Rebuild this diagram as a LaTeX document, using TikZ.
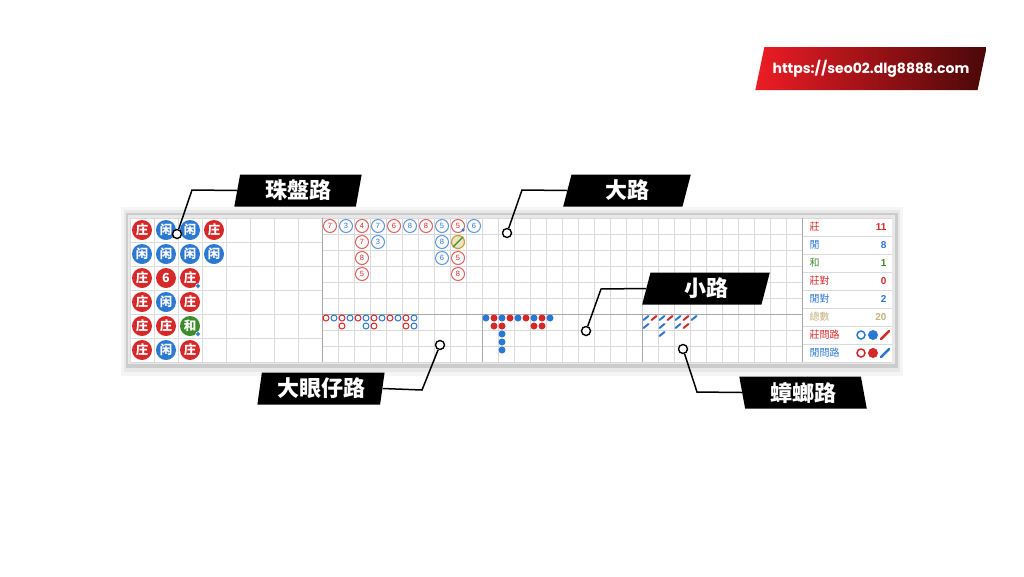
\documentclass[tikz,border=0pt]{standalone}
\usepackage{fontspec}
\newfontfamily\cjk{Noto Sans CJK TC}
\newfontfamily\numfont{Liberation Sans}
\newfontfamily\urlfont{Poppins}
\usetikzlibrary{shapes.geometric}
\definecolor{bkr}{HTML}{D62828}
\definecolor{ply}{HTML}{2B78D2}
\definecolor{tiec}{HTML}{3C8C2A}
\definecolor{tanc}{HTML}{C9B27C}
\definecolor{gridc}{HTML}{DADADA}
\definecolor{sepc}{HTML}{A8A8A8}
\definecolor{bkrl}{HTML}{E0605A}
\definecolor{plyl}{HTML}{5A98E0}
\definecolor{olivec}{HTML}{C2A43C}
\definecolor{urlA}{HTML}{EE1C25}
\definecolor{urlB}{HTML}{4A0808}
\tikzset{
  gridl/.style={draw=gridc, line width=0.8},
  sepl/.style={draw=sepc, line width=1},
  beadB/.style={circle, fill=bkr, text=white, minimum size=20, inner sep=0, font=\cjk\bfseries\fontsize{12.5}{12.5}\selectfont},
  beadP/.style={beadB, fill=ply},
  beadT/.style={beadB, fill=tiec},
  pdot/.style={circle, fill=ply, draw=white, line width=0.5, minimum size=4.5, inner sep=0},
  ringB/.style={circle, draw=bkrl, line width=1, fill=white, text=bkr, minimum size=13, inner sep=0, font=\numfont\fontsize{7.5}{7.5}\selectfont},
  ringP/.style={ringB, draw=plyl, text=ply},
  eyeR/.style={circle, draw=bkr, line width=1, fill=white, minimum size=6, inner sep=0},
  eyeB/.style={eyeR, draw=ply},
  sdR/.style={circle, fill=bkr, minimum size=7, inner sep=0},
  sdB/.style={sdR, fill=ply},
  slR/.style={draw=bkr, line width=2, line cap=round},
  slB/.style={slR, draw=ply},
  statl/.style={anchor=west, font=\cjk\fontsize{10}{10}\selectfont},
  statv/.style={anchor=east, font=\numfont\bfseries\fontsize{10}{10}\selectfont},
  callout/.style={trapezium, trapezium left angle=81, trapezium right angle=99, trapezium stretches=true, fill=black, text=white, minimum width=128, minimum height=32, inner sep=0, font=\cjk\bfseries\fontsize{22}{22}\selectfont},
  calloutr/.style={callout, trapezium left angle=99, trapezium right angle=81},
  lead/.style={draw=black, line width=1.5},
  hole/.style={circle, draw=black, fill=white, line width=1.4, minimum size=9, inner sep=0},
}
\begin{document}
\begin{tikzpicture}[x=1pt, y=-1pt]
\useasboundingbox (0,0) rectangle (1024,576);
\fill[white] (0,0) rectangle (1024,576);

% URL banner
\node[trapezium, trapezium left angle=64, trapezium right angle=116, trapezium stretches=true,
  left color=urlA, right color=urlB, minimum width=232, minimum height=43, inner sep=0,
  text=white, font=\urlfont\bfseries\fontsize{14}{14}\selectfont] (url) at (871,68.5) {https://seo02.dlg8888.com};

% board frame
\fill[black!4] (121,207) rectangle (903,376);
\fill[black!9] (124,210) rectangle (900,372);
\fill[black!20] (126,213) rectangle (898,368);
\fill[black!9] (128,215) rectangle (895,364);
\fill[white] (130,218) rectangle (892,362);

% bead road grid
\foreach \i in {0,...,8} \draw[gridl] ({130+24*\i},218) -- ({130+24*\i},362);
\foreach \j in {0,...,6} \draw[gridl] (130,{218+24*\j}) -- (322,{218+24*\j});
% big road + derived roads grid
\foreach \i in {0,...,30} \draw[gridl] ({322+16*\i},218) -- ({322+16*\i},362);
\foreach \j in {0,...,9} \draw[gridl] (322,{218+16*\j}) -- (802,{218+16*\j});
% stats panel grid
\foreach \k in {0,...,8} \draw[gridl] (802,{218+18*\k}) -- (892,{218+18*\k});
% separators
\draw[sepl] (322,218) -- (322,362);
\draw[sepl] (322,314) -- (802,314);
\draw[sepl] (482,314) -- (482,362);
\draw[sepl] (642,314) -- (642,362);
\draw[sepl] (802,218) -- (802,362);

% bead road
\foreach \c/\r/\k/\t [count=\n] in {
  0/0/B/庄, 0/1/P/闲, 0/2/B/庄, 0/3/B/庄, 0/4/B/庄, 0/5/B/庄,
  1/0/P/闲, 1/1/P/闲, 1/2/B/6, 1/3/P/闲, 1/4/B/庄, 1/5/P/闲,
  2/0/P/闲, 2/1/P/闲, 2/2/B/庄, 2/3/B/庄, 2/4/T/和, 2/5/B/庄,
  3/0/B/庄, 3/1/P/闲}
  \node[bead\k, name=bd\n] at ({142+24*\c},{230+24*\r}) {\t};
\node[pdot] (pd1) at ({142+48+8},{230+48+8}) {};
\node[pdot] (pd2) at ({142+48+8},{230+96+8}) {};

% big road
\foreach \c/\r/\t [count=\n] in {0/0/7, 2/0/4, 4/0/6, 6/0/8, 8/0/5, 2/1/7, 2/2/8, 2/3/5, 8/2/5, 8/3/8}
  \node[ringB, name=rb\n] at ({330+16*\c},{226+16*\r}) {\t};
\foreach \c/\r/\t [count=\n] in {1/0/3, 3/0/7, 5/0/8, 7/0/5, 9/0/6, 3/1/3, 7/1/8, 7/2/6}
  \node[ringP, name=rp\n] at ({330+16*\c},{226+16*\r}) {\t};
\node[circle, fill=ply, minimum size=3.5, inner sep=0] (rpd) at (463,230) {};
\node[circle, draw=olivec, fill=olivec!30, line width=1.2, minimum size=13, inner sep=0] (rt) at (458,242) {};
\draw[tiec, line width=1.3, line cap=round] (rt.south west) -- (rt.north east);

% big eye road
\foreach \c/\r [count=\n] in {0/0, 2/0, 4/0, 6/0, 8/0, 10/0, 2/1, 6/1, 10/1}
  \node[eyeR, name=er\n] at ({326+8*\c},{318+8*\r}) {};
\foreach \c/\r [count=\n] in {1/0, 3/0, 5/0, 7/0, 9/0, 11/0, 5/1, 11/1}
  \node[eyeB, name=eb\n] at ({326+8*\c},{318+8*\r}) {};

% small road
\foreach \c/\r [count=\n] in {1/0, 3/0, 5/0, 7/0, 1/1, 2/1, 6/1, 7/1}
  \node[sdR, name=sr\n] at ({486+8*\c},{318+8*\r}) {};
\foreach \c/\r [count=\n] in {0/0, 2/0, 4/0, 6/0, 8/0, 2/2, 2/3, 2/4}
  \node[sdB, name=sb\n] at ({486+8*\c},{318+8*\r}) {};

% cockroach road
\foreach \c/\r in {1/0, 3/0, 5/0, 5/1}
  \draw[slR] ({646+8*\c-2.5},{318+8*\r+2}) -- ++(5,-4);
\foreach \c/\r in {0/0, 2/0, 4/0, 6/0, 0/1, 2/1, 4/1, 2/2}
  \draw[slB] ({646+8*\c-2.5},{318+8*\r+2}) -- ++(5,-4);

% stats panel
\node[statl, text=bkr] (s0) at (806,227) {莊};
\node[statl, text=ply] (s1) at (806,245) {閒};
\node[statl, text=tiec] (s2) at (806,263) {和};
\node[statl, text=bkr] (s3) at (806,281) {莊對};
\node[statl, text=ply] (s4) at (806,299) {閒對};
\node[statl, text=tanc] (s5) at (806,317) {總數};
\node[statl, text=bkr] (s6) at (806,335) {莊問路};
\node[statl, text=ply] (s7) at (806,353) {閒問路};
\node[statv, text=bkr] (v0) at (890,227) {11};
\node[statv, text=ply] (v1) at (890,245) {8};
\node[statv, text=tiec] (v2) at (890,263) {1};
\node[statv, text=bkr] (v3) at (890,281) {0};
\node[statv, text=ply] (v4) at (890,299) {2};
\node[statv, text=tanc] (v5) at (890,317) {20};
\node[circle, draw=ply, line width=1.5, minimum size=8, inner sep=0] (q1) at (861,335) {};
\node[circle, fill=ply, minimum size=10, inner sep=0] (q2) at (873,335) {};
\draw[slR, line width=2.5] (881,339) -- (889,331);
\node[circle, draw=bkr, line width=1.5, minimum size=8, inner sep=0] (q3) at (861,353) {};
\node[circle, fill=bkr, minimum size=10, inner sep=0] (q4) at (873,353) {};
\draw[slB, line width=2.5] (881,357) -- (889,349);

% callouts
\node[callout] (lbead) at (298,190.5) {珠盤路};
\node[callout] (lbig) at (627,190.5) {大路};
\node[callout] (lsmall) at (706,288.5) {小路};
\node[callout] (leye) at (321,388.5) {大眼仔路};
\node[calloutr] (lroach) at (803,392.5) {蟑螂路};

\coordinate (kbead) at (192,190);
\coordinate (kbig) at (522,190);
\coordinate (ksmall) at (601,289);
\coordinate (keye) at (422,390);
\coordinate (kroach) at (697,392);

\node[hole] (hbead) at (177,234) {};
\node[hole] (hbig) at (507,233) {};
\node[hole] (hsmall) at (586,331) {};
\node[hole] (heye) at (440,345) {};
\node[hole] (hroach) at (683,349) {};

\draw[lead] (lbead.west) -- (kbead) -- (hbead);
\draw[lead] (lbig.west) -- (kbig) -- (hbig);
\draw[lead] (lsmall.west) -- (ksmall) -- (hsmall);
\draw[lead] (leye.east) -- (keye) -- (heye);
\draw[lead] (lroach.west) -- (kroach) -- (hroach);
\end{tikzpicture}
\end{document}
